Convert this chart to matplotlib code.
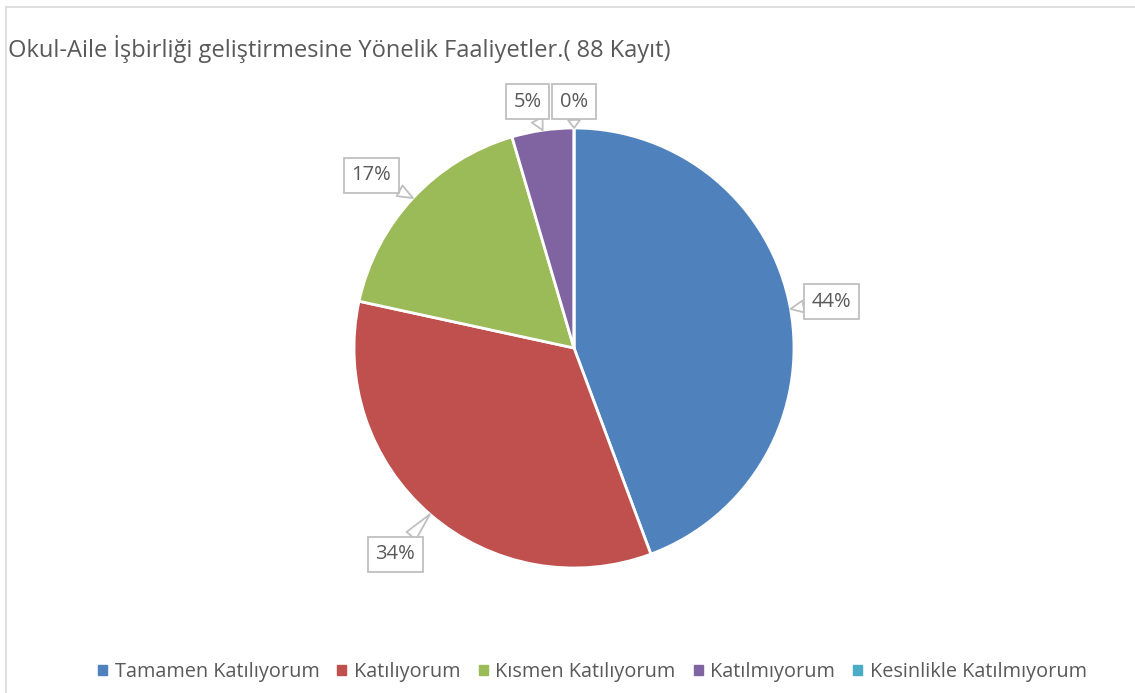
import numpy as np
import matplotlib.pyplot as plt
from matplotlib.patches import Rectangle

# 88 kayit
categories = ["Tamamen Katılıyorum", "Katılıyorum", "Kısmen Katılıyorum",
              "Katılmıyorum", "Kesinlikle Katılmıyorum"]
counts = [39, 30, 15, 4, 0]
colors = ["#4F81BD", "#C0504D", "#9BBB59", "#8064A2", "#4BACC6"]
title = "Okul-Aile İşbirliği geliştirmesine Yönelik Faaliyetler.( 88 Kayıt)"

plt.rcParams['font.family'] = ['Open Sans', 'DejaVu Sans']
text_gray = "#595959"
line_gray = "#bfbfbf"

W, H = 1135, 693
fig = plt.figure(figsize=(W / 100, H / 100), dpi=100)
ax = fig.add_axes([0, 0, 1, 1])

cx, cy, R = 574, H - 348, 220
wedges, _ = ax.pie(counts, colors=colors, startangle=90, counterclock=False,
                   center=(cx, cy), radius=R,
                   wedgeprops=dict(edgecolor="white", linewidth=2))
ax.set_xlim(0, W)
ax.set_ylim(0, H)
ax.set_aspect("equal")
ax.axis("off")

# chart border (clipped on right/bottom)
ax.add_patch(Rectangle((6, -20), W + 40, H - 7 + 20, fill=False,
                       edgecolor="#d9d9d9", linewidth=1.2))

ax.text(8, H - 49, title, fontsize=17, color=text_gray, va="center", ha="left")

# callout labels: distance (in radii) and angle shift from the wedge middle
total = sum(counts)
label_dist = [1.19, 1.24, 1.21, 1.14, 1.12]
label_shift = [0, 0, 2.5, 2.5, 0]
for w, c, d, s in zip(wedges, counts, label_dist, label_shift):
    mid = np.deg2rad((w.theta1 + w.theta2) / 2 + s)
    pmid = np.deg2rad((w.theta1 + w.theta2) / 2)
    pct = "{:.0f}%".format(100 * c / total)
    tx, ty = cx + d * R * np.cos(mid), cy + d * R * np.sin(mid)
    px, py = cx + R * np.cos(pmid), cy + R * np.sin(pmid)
    ax.annotate(pct, xy=(px, py), xytext=(tx, ty), ha="center", va="center",
                fontsize=14.5, color=text_gray,
                bbox=dict(boxstyle="square,pad=0.38", fc="white", ec=line_gray, lw=1.3),
                arrowprops=dict(arrowstyle="wedge,tail_width=0.6,shrink_factor=0.5",
                                fc="white", ec=line_gray, lw=1.3,
                                shrinkA=0, shrinkB=0))

handles = [plt.Rectangle((0, 0), 1, 1, color=col) for col in colors]
leg = fig.legend(handles, categories, loc="center", bbox_to_anchor=(0.522, 1 - 672 / H),
                 ncol=5, frameon=False, fontsize=14.3, handlelength=0.45, handleheight=0.45,
                 handletextpad=0.4, columnspacing=0.9)
for t in leg.get_texts():
    t.set_color(text_gray)

fig.savefig("out.png", dpi=100)
